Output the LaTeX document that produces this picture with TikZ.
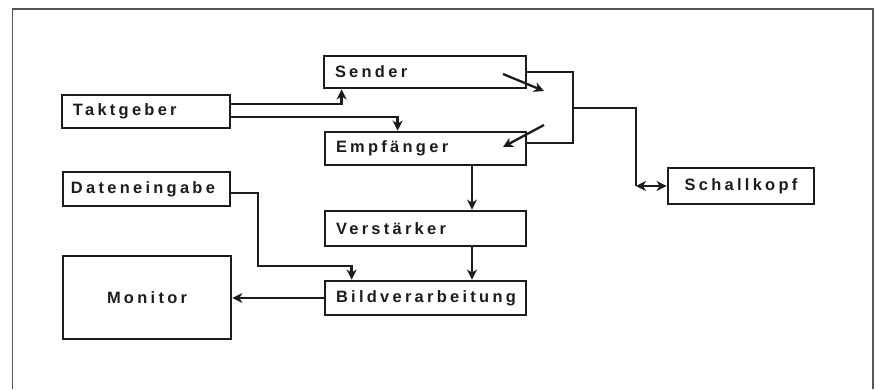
\documentclass[tikz,border=0pt]{standalone}
\usepackage{fontspec}
\newfontfamily\lblfont{Liberation Sans}[LetterSpace=20]
\usetikzlibrary{arrows.meta}
\definecolor{ink}{HTML}{1C1C1C}
\definecolor{framec}{HTML}{555555}
\begin{document}
\begin{tikzpicture}[x=1bp,y=-1bp,
  blk/.style={draw=ink, line width=2.8bp, inner xsep=11bp, inner ysep=0pt, align=left, text=ink,
    font=\lblfont\bfseries\fontsize{16.5}{19}\selectfont},
  wire/.style={draw=ink, line width=2.3bp},
  arr/.style={wire, -{Stealth[length=10bp,width=10bp,inset=3bp]}},
  dblarr/.style={wire, {Stealth[length=10bp,width=10bp,inset=3bp]}-{Stealth[length=10bp,width=10bp,inset=3bp]}},
]
\fill[white] (0,0) rectangle (880,389);
\useasboundingbox (0,0) rectangle (880,389);
\draw[framec, line width=1.3bp] (12.5,389) -- (12.5,9) -- (873,9) -- (873,389);

\node[blk, text width=180bp, minimum height=32bp] (snd) at (425,72) {Sender};
\node[blk, text width=146bp, minimum height=33bp] (tkt) at (146,111.5) {Taktgeber};
\node[blk, text width=179bp, minimum height=33bp] (emp) at (425.5,148.5) {Empfänger};
\node[blk, text width=151bp, minimum height=34bp, inner xsep=8bp] (dat) at (146.5,189) {Dateneingabe};
\node[blk, text width=124bp, minimum height=36bp, align=center] (sch) at (741,186) {Schallkopf};
\node[blk, text width=179bp, minimum height=35bp] (ver) at (425.5,228.5) {Verstärker};
\node[blk, text width=146bp, minimum height=83bp, align=center] (mon) at (147,297.5) {Monitor};
\node[blk, text width=179bp, minimum height=34bp] (bld) at (425.5,298) {Bildverarbeitung};

\coordinate (bus) at (573,108);
\coordinate (cor) at (636,186);
\coordinate (s1) at (503,74);
\coordinate (s2) at (544,91);
\coordinate (e1) at (544,125);
\coordinate (e2) at (503,147);
\coordinate (d1) at (258,266);

\draw[arr] ([yshift=7.5bp]tkt.east) -| ([xshift=19bp]snd.south west);
\draw[arr] ([yshift=-5.5bp]tkt.east) -| ([xshift=74bp]emp.north west);
\draw[wire] (snd.east) -| (bus) |- ([yshift=5.5bp]emp.east);
\draw[wire] (bus) -| (cor);
\draw[dblarr] (cor) -- (sch.west);
\draw[arr] (s1) -- (s2);
\draw[arr] (e1) -- (e2);
\draw[arr] ([xshift=46.5bp]emp.south) -- ([xshift=46.5bp]ver.north);
\draw[arr] ([xshift=46.5bp]ver.south) -- ([xshift=46.5bp]bld.north);
\draw[arr] ([yshift=-4bp]dat.east) -| (d1) -| ([xshift=28bp]bld.north west);
\draw[arr] (bld.west) -- (bld.west -| mon.east);
\end{tikzpicture}
\end{document}
